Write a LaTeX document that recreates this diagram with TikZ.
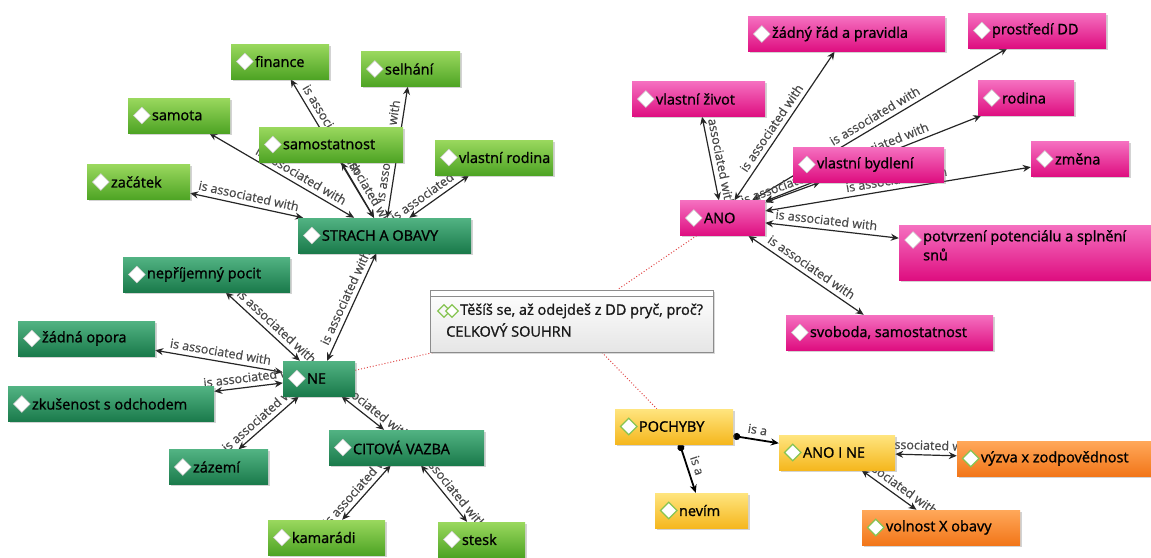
\documentclass[tikz,border=0pt]{standalone}
\usepackage{fontspec}
\setmainfont{Open Sans}
\newfontfamily\nodefont{Open Sans}[FakeBold=1.2]
\newfontfamily\lblfont{Open Sans}[FakeBold=0.6]
\usetikzlibrary{arrows.meta,shapes.geometric,shadows,backgrounds}
\definecolor{lgT}{HTML}{9AD85E}
\definecolor{lgB}{HTML}{4EA424}
\definecolor{tgT}{HTML}{52B383}
\definecolor{tgB}{HTML}{1A7A4B}
\definecolor{pkT}{HTML}{F570C0}
\definecolor{pkB}{HTML}{DE0E80}
\definecolor{ylT}{HTML}{FFE57F}
\definecolor{ylB}{HTML}{F5B71E}
\definecolor{orT}{HTML}{FFA85A}
\definecolor{orB}{HTML}{F27619}
\definecolor{lblc}{HTML}{4A4A4A}
\definecolor{dotc}{HTML}{E04848}
\definecolor{icong}{HTML}{86C452}
\newcommand\mmnode[7][dia]{%
  \node[box,#3,minimum width=#6pt] (#2) at (#4,#5) {};
  \node[#1] (#2-d) at ([xshift=14pt]#2.west) {};
  \node[ntxt] (#2-t) at ([xshift=24pt]#2.west) {#7};}
\begin{document}
\begin{tikzpicture}[x=1pt,y=-1pt,
  box/.style={rectangle, minimum height=35pt, inner sep=0pt,
    drop shadow={shadow xshift=1.5pt,shadow yshift=-1.5pt,opacity=0.35}},
  lg/.style={top color=lgT,bottom color=lgB},
  tg/.style={top color=tgT,bottom color=tgB},
  pk/.style={top color=pkT,bottom color=pkB},
  yl/.style={top color=ylT,bottom color=ylB},
  og/.style={top color=orT,bottom color=orB},
  dia/.style={diamond, fill=white, draw=white!80!black, line width=0.5pt,
    minimum width=17pt, minimum height=17pt, inner sep=0pt},
  diaY/.style={dia, draw=icong, line width=1.2pt},
  ntxt/.style={anchor=west, inner sep=0pt, font=\nodefont\fontsize{14.5}{19}\selectfont, text=black},
  ctxt/.style={anchor=west, inner sep=0pt, font=\nodefont\fontsize{14.5}{17}\selectfont, text=black!90},
  ae/.style={draw=black!85, line width=1.2pt, {Stealth[length=8pt,width=7pt]}-{Stealth[length=8pt,width=7pt]}},
  isa/.style={draw=black, line width=1.8pt, {Circle[length=7pt]}-{Stealth[length=8pt,width=7pt]}},
  lbl/.style={font=\lblfont\fontsize{12.5}{13}\selectfont, text=lblc, sloped, above=3.5pt, inner sep=1pt},
  dots/.style={draw=dotc, line width=1pt, dotted},
  cbox/.style={rectangle, inner sep=0pt, top color=white, bottom color=black!10, draw=black!45,
    line width=0.8pt, drop shadow={shadow xshift=2pt,shadow yshift=-2pt,opacity=0.3}},
  cicon/.style={diamond, draw=icong, line width=1.2pt, minimum width=13pt, minimum height=13pt, inner sep=0pt}
]
\useasboundingbox (0,0) rectangle (1151,557);

% ---- green cluster
\mmnode{fin}{lg}{280}{61.5}{98}{finance}
\mmnode{selh}{lg}{410.5}{69}{99}{selhání}
\mmnode{samota}{lg}{179}{115.5}{102}{samota}
\mmnode{samost}{lg}{331}{144.5}{144}{samostatnost}
\mmnode{vrod}{lg}{494}{157.5}{118}{vlastní rodina}
\mmnode{zac}{lg}{138.5}{182}{103}{začátek}
\mmnode{strach}{tg}{384.5}{235.5}{173}{STRACH A OBAVY}
\mmnode{nep}{tg}{206.5}{274.5}{167}{nepříjemný pocit}
\mmnode{zop}{tg}{86.5}{338.5}{137}{žádná opora}
\mmnode{zkus}{tg}{111}{404}{206}{zkušenost s odchodem}
\mmnode{ne}{tg}{319}{378.5}{72}{NE}
\mmnode{zaz}{tg}{218.5}{467}{99}{zázemí}
\mmnode{cit}{tg}{406.5}{447.5}{155}{CITOVÁ VAZBA}
\mmnode{kam}{lg}{326.5}{537.5}{117}{kamarádi}
\mmnode{stesk}{lg}{481.5}{539.5}{87}{stesk}

% ---- pink cluster
\mmnode{zrad}{pk}{846.5}{34}{197}{žádný řád a pravidla}
\mmnode{dd}{pk}{1037}{30.5}{138}{prostředí DD}
\mmnode{vzi}{pk}{698.5}{99}{133}{vlastní život}
\mmnode{rod}{pk}{1026}{98}{96}{rodina}
\mmnode{byd}{pk}{868.5}{164.5}{151}{vlastní bydlení}
\mmnode{zmena}{pk}{1080}{159}{98}{změna}
\mmnode{ano}{pk}{722.5}{218}{85}{ANO}
\node[box,pk,minimum width=252pt,minimum height=55pt] (potv) at (1025,252.5) {};
\node[dia] (potv-d) at (913,240) {};
\node[ntxt,anchor=north west,align=left] (potv-t) at (923,230) {potvrzení potenciálu a splnění\\snů};
\mmnode{svob}{pk}{889.5}{332.5}{207}{svoboda, samostatnost}

% ---- yellow / orange
\mmnode[diaY]{poch}{yl}{674}{426.5}{118}{POCHYBY}
\mmnode[diaY]{anone}{yl}{837}{452.5}{116}{ANO I NE}
\mmnode[diaY]{nevim}{yl}{701.5}{510.5}{93}{nevím}
\mmnode[diaY]{vyzva}{og}{1054}{458.5}{194}{výzva x zodpovědnost}
\mmnode[diaY]{voln}{og}{941}{527.5}{158}{volnost X obavy}

% ---- central node
\node[cbox,minimum width=283pt,minimum height=62pt] (c) at (571.5,321) {};
\node[rectangle,fill=white,draw=black!45,line width=0.8pt,minimum width=283pt,minimum height=6pt,inner sep=0pt] (cbar) at (571.5,293) {};
\node[cicon] (ci1) at (444,311) {};
\node[cicon,fill=white] (ci2) at (452,311) {};
\node[ctxt] (ct1) at (460,311) {Těšíš se, až odejdeš z DD pryč, proč?};
\node[ctxt] (ct2) at (446,330) {CELKOVÝ SOUHRN};

\begin{scope}[on background layer]
% green edges
\draw[ae] (zac) -- node[lbl]{is associated with} (strach);
\draw[ae] (samota) -- node[lbl,pos=0.6]{is associated with} (strach);
\draw[ae] (fin) -- node[lbl,pos=0.4]{is associated with} (strach);
\draw[ae] (strach) -- node[lbl]{is associated with} (selh);
\draw[ae] (samost) -- node[lbl]{is associated with} (strach);
\draw[ae] (strach) -- node[lbl]{is associated with} (vrod);
\draw[ae] (ne) -- node[lbl,pos=0.55]{is associated with} (strach);
\draw[ae] (nep) -- node[lbl,pos=0.6]{is associated with} (ne);
\draw[ae] (zop) -- node[lbl]{is associated with} (ne);
\draw[ae] (zkus) -- node[lbl,pos=0.6]{is associated with} (ne);
\draw[ae] (zaz) -- node[lbl]{is associated with} (ne);
\draw[ae] (ne) -- node[lbl]{is associated with} (cit);
\draw[ae] (kam) -- node[lbl]{is associated with} (cit);
\draw[ae] (cit) -- node[lbl]{is associated with} (stesk);
% pink edges
\draw[ae] (vzi) -- node[lbl]{is associated with} (ano);
\draw[ae] (ano) -- node[lbl,pos=0.45]{is associated with} (zrad);
\draw[ae] (ano) -- node[lbl]{is associated with} (dd);
\draw[ae] (ano) -- node[lbl,pos=0.55]{is associated with} (rod);
\draw[ae] (ano) -- node[lbl]{is associated with} (byd);
\draw[ae] (ano) -- node[lbl]{is associated with} (zmena);
\draw[ae] (ano) -- node[lbl,pos=0.45]{is associated with} (potv);
\draw[ae] (ano) -- node[lbl]{is associated with} (svob);
% yellow edges
\draw[isa] (poch) -- node[lbl]{is a} (anone);
\draw[isa] (poch) -- node[lbl]{is a} (nevim);
\draw[ae] (anone) -- node[lbl]{is associated with} (vyzva);
\draw[ae] (anone) -- node[lbl]{is associated with} (voln);
% dotted links to the centre
\draw[dots] (ne) -- (c);
\draw[dots] (ano) -- (c);
\draw[dots] (c) -- (poch);
\end{scope}
\end{tikzpicture}
\end{document}
